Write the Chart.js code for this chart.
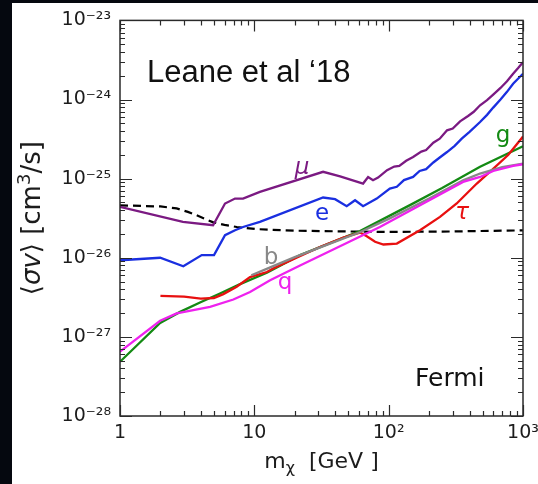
<!DOCTYPE html>
<html>
<head>
<meta charset="utf-8">
<script src="https://cdn.jsdelivr.net/npm/chart.js@4/dist/chart.umd.min.js"></script>
<style>
  html, body { margin: 0; padding: 0; background: #05080f; overflow: hidden; }
  canvas { display: block; }
</style>
</head>
<body>
<canvas id="chart" width="560" height="484"></canvas>
<script>
// Dark-matter annihilation limits: <sigma v> [cm^3/s] versus m_chi [GeV]

// Fermi reference line (dashed)
const fermiMass  = [1, 2, 2.64, 3.2, 3.72, 4.3, 4.95, 6, 7.4, 10.4, 20, 50, 100, 300, 1000];
const fermiSigma = [4.6e-26, 4.45e-26, 4.2e-26, 3.8e-26, 3.45e-26, 3.1e-26, 2.8e-26, 2.6e-26, 2.45e-26, 2.3e-26, 2.2e-26, 2.15e-26, 2.12e-26, 2.15e-26, 2.22e-26];

// mu channel
const muMass  = [1, 2.94, 4.93, 6.05, 7.18, 8.24, 11, 32.5, 43.5, 64.5, 70.3, 76.5, 83.4, 97.3, 110, 120, 135, 152, 175, 190, 215, 240, 272, 300, 340, 390, 430, 479, 540, 600, 680, 760, 844, 920, 1000];
const muSigma = [4.4e-26, 2.84e-26, 2.58e-26, 4.85e-26, 5.6e-26, 5.6e-26, 6.8e-26, 1.22e-25, 1.07e-25, 8.67e-26, 1.05e-25, 9.55e-26, 1.03e-25, 1.28e-25, 1.42e-25, 1.45e-25, 1.68e-25, 1.88e-25, 2.2e-25, 2.3e-25, 2.85e-25, 3.2e-25, 4.08e-25, 4.3e-25, 5.3e-25, 6.2e-25, 7.0e-25, 8.45e-25, 9.8e-25, 1.15e-24, 1.4e-24, 1.7e-24, 2.12e-24, 2.5e-24, 2.97e-24];

// e channel
const eMass  = [1, 1.99, 2.96, 4.06, 5.01, 6.05, 7.18, 8.24, 11, 32.5, 39.9, 48.7, 56.2, 64.5, 81.5, 102, 115, 130, 152, 170, 190, 215, 240, 272, 310, 350, 400, 479, 540, 600, 680, 760, 844, 1000];
const eSigma = [9.3e-27, 1.0e-26, 7.8e-27, 1.08e-26, 1.08e-26, 1.93e-26, 2.23e-26, 2.45e-26, 2.84e-26, 5.77e-26, 5.5e-26, 4.49e-26, 5.33e-26, 4.49e-26, 5.6e-26, 7.5e-26, 7.9e-26, 9.6e-26, 1.05e-25, 1.25e-25, 1.32e-25, 1.6e-25, 1.85e-25, 2.17e-25, 2.6e-25, 3.2e-25, 3.9e-25, 5.2e-25, 6.4e-25, 7.9e-25, 1.0e-24, 1.25e-24, 1.58e-24, 2.12e-24];

// tau channel
const tauMass  = [2, 3, 4, 5, 5.88, 7.39, 9.29, 12.4, 13.8, 30.8, 46, 61.2, 68.7, 79.2, 91.4, 115, 171, 241, 321, 453, 602, 778, 1000];
const tauSigma = [3.3e-27, 3.22e-27, 3.05e-27, 3.1e-27, 3.47e-27, 4.3e-27, 5.7e-27, 6.6e-27, 7.3e-27, 1.37e-26, 1.8e-26, 2.08e-26, 1.87e-26, 1.59e-26, 1.47e-26, 1.51e-26, 2.23e-26, 3.28e-26, 4.85e-26, 8.67e-26, 1.34e-25, 2.0e-25, 3.4e-25];

// b channel
const bMass  = [9.5, 13, 20, 40, 61, 100, 200, 358, 479, 700, 1000];
const bSigma = [6.0e-27, 7.5e-27, 1.02e-26, 1.6e-26, 2.1e-26, 3.1e-26, 5.6e-26, 9.5e-26, 1.16e-25, 1.4e-25, 1.55e-25];

// q channel
const qMass  = [1, 1.99, 2.64, 4.68, 6.98, 9.29, 13.1, 21.9, 86, 358, 479, 600, 844, 1000];
const qSigma = [6.5e-28, 1.6e-27, 1.98e-27, 2.4e-27, 2.97e-27, 3.7e-27, 5.2e-27, 8.0e-27, 2.45e-26, 9.1e-26, 1.05e-25, 1.25e-25, 1.45e-25, 1.52e-25];

// g channel
const gMass  = [1, 1.99, 2.8, 3.94, 5.55, 7.83, 12.4, 21.9, 61.2, 150, 250, 479, 1000];
const gSigma = [4.85e-28, 1.5e-27, 2.07e-27, 2.72e-27, 3.54e-27, 4.65e-27, 6.45e-27, 1.08e-26, 2.17e-26, 4.8e-26, 7.6e-26, 1.41e-25, 2.57e-25];

// Axis ticks
const xTickValues = [1, 10, 100, 1000];
const xTickLabels = ['1', '10', '10²', '10³'];
const yTickValues = [1e-28, 1e-27, 1e-26, 1e-25, 1e-24, 1e-23];
const yTickLabels = ['10⁻²⁸', '10⁻²⁷', '10⁻²⁶', '10⁻²⁵', '10⁻²⁴', '10⁻²³'];

// Curve labels: text, colour, position in data coordinates
const curveLabels = [
  { text: 'μ', color: '#7b1a82', x: 22.7, y: 1.35e-25, italic: true },
  { text: 'e', color: '#1a2fe0', x: 31.9, y: 3.56e-26, italic: false },
  { text: 'b', color: '#888888', x: 13.3, y: 9.9e-27, italic: false },
  { text: 'q', color: '#ee22ee', x: 16.9, y: 4.8e-27, italic: false },
  { text: 'τ', color: '#e81010', x: 352, y: 3.66e-26, italic: true },
  { text: 'g', color: '#138a13', x: 711, y: 3.5e-25, italic: false }
];

const toPoints = (xs, ys) => xs.map((x, i) => ({ x: x, y: ys[i] }));

function series(label, xs, ys, color, dash) {
  return {
    label: label,
    data: toPoints(xs, ys),
    borderColor: color,
    backgroundColor: color,
    borderWidth: dash ? 2.2 : 2.3,
    borderDash: dash || [],
    pointRadius: 0,
    tension: 0,
    fill: false
  };
}

const AXIS_COLOR = '#2a2a2a';
const TEXT_COLOR = '#1c1c1c';

// draws a sequence of text runs (with sub/superscripts) centred on x
function drawRuns(ctx, runs, cx, baseline) {
  let total = 0;
  runs.forEach(r => {
    ctx.font = (r.italic ? 'italic ' : '') + r.size + 'px "DejaVu Sans"';
    r.w = ctx.measureText(r.text).width;
    total += r.w;
  });
  let x = cx - total / 2;
  ctx.textAlign = 'left';
  ctx.textBaseline = 'alphabetic';
  runs.forEach(r => {
    ctx.font = (r.italic ? 'italic ' : '') + r.size + 'px "DejaVu Sans"';
    ctx.fillText(r.text, x, baseline + (r.dy || 0));
    x += r.w;
  });
}

const decorPlugin = {
  id: 'decor',
  beforeDraw(chart) {
    const ctx = chart.ctx;
    ctx.save();
    ctx.fillStyle = '#05080f';
    ctx.fillRect(0, 0, chart.width, chart.height);
    ctx.fillStyle = '#ffffff';
    ctx.fillRect(12, 3, chart.width - 12, chart.height - 3);
    ctx.restore();
  },
  afterDraw(chart) {
    const ctx = chart.ctx;
    const a = chart.chartArea;
    const xs = chart.scales.x, ys = chart.scales.y;
    ctx.save();

    // frame
    ctx.strokeStyle = AXIS_COLOR;
    ctx.lineWidth = 1.5;
    ctx.strokeRect(a.left, a.top, a.right - a.left, a.bottom - a.top);

    // inward tick marks on all four sides
    ctx.lineWidth = 1.2;
    ctx.beginPath();
    for (let d = 0; d <= 3; d++) {
      for (let m = 1; m <= 9; m++) {
        const v = m * Math.pow(10, d);
        if (v > 1000) break;
        const px = Math.round(xs.getPixelForValue(v)) + 0.5;
        const len = m === 1 ? 11 : 5;
        ctx.moveTo(px, a.bottom); ctx.lineTo(px, a.bottom - len);
        ctx.moveTo(px, a.top); ctx.lineTo(px, a.top + len);
      }
    }
    for (let d = -28; d <= -23; d++) {
      for (let m = 1; m <= 9; m++) {
        const v = m * Math.pow(10, d);
        if (d === -23 && m > 1) break;
        const py = Math.round(ys.getPixelForValue(v)) + 0.5;
        const len = m === 1 ? 12 : 5;
        ctx.moveTo(a.left, py); ctx.lineTo(a.left + len, py);
        ctx.moveTo(a.right, py); ctx.lineTo(a.right - len, py);
      }
    }
    ctx.stroke();

    // curve labels
    ctx.textAlign = 'center';
    ctx.textBaseline = 'middle';
    curveLabels.forEach(l => {
      ctx.font = (l.italic ? 'italic ' : '') + '23px "DejaVu Sans"';
      ctx.fillStyle = l.color;
      ctx.fillText(l.text, xs.getPixelForValue(l.x), ys.getPixelForValue(l.y));
    });

    // annotations
    ctx.fillStyle = '#111111';
    ctx.textAlign = 'left';
    ctx.textBaseline = 'alphabetic';
    ctx.font = '31px "Liberation Sans"';
    ctx.fillText('Leane et al ‘18', a.left + 27, a.top + 62);
    ctx.font = '25px "DejaVu Sans"';
    ctx.fillText('Fermi', a.left + 295, a.bottom - 30);

    // axis titles
    ctx.fillStyle = TEXT_COLOR;
    drawRuns(ctx, [
      { text: 'm', size: 22 },
      { text: 'χ', size: 16, dy: 5 },
      { text: '  [GeV ]', size: 22 }
    ], (a.left + a.right) / 2, 468);

    ctx.translate(40, (a.top + a.bottom) / 2 + 0);
    ctx.rotate(-Math.PI / 2);
    drawRuns(ctx, [
      { text: '⟨', size: 26 },
      { text: 'σv', size: 26, italic: true },
      { text: '⟩ [cm', size: 26 },
      { text: '3', size: 18, dy: -10 },
      { text: '/s]', size: 26 }
    ], 0, 0);

    ctx.restore();
  }
};

const tickFont = { family: 'DejaVu Sans', size: 19 };

new Chart(document.getElementById('chart').getContext('2d'), {
  type: 'line',
  data: {
    datasets: [
      series('μ', muMass, muSigma, '#7b1a82'),
      series('e', eMass, eSigma, '#1a2fe0'),
      series('q', qMass, qSigma, '#ee22ee'),
      series('b', bMass, bSigma, '#888888'),
      series('τ', tauMass, tauSigma, '#e81010'),
      series('g', gMass, gSigma, '#138a13'),
      series('Fermi', fermiMass, fermiSigma, '#000000', [8, 5])
    ]
  },
  options: {
    responsive: false,
    animation: false,
    devicePixelRatio: 1,
    layout: { padding: { left: 12, top: 20, right: 37, bottom: 0 } },
    plugins: { legend: { display: false }, tooltip: { enabled: false } },
    scales: {
      x: {
        type: 'logarithmic',
        min: 1, max: 1000,
        grid: { display: false, drawTicks: false },
        border: { display: false },
        afterBuildTicks: s => { s.ticks = xTickValues.map(v => ({ value: v })); },
        afterFit: s => { s.height = 68; },
        ticks: {
          autoSkip: false, maxRotation: 0, minRotation: 0, padding: 6,
          color: TEXT_COLOR, font: tickFont,
          callback: (v, i) => xTickLabels[i]
        }
      },
      y: {
        type: 'logarithmic',
        min: 1e-28, max: 1e-23,
        grid: { display: false, drawTicks: false },
        border: { display: false },
        afterBuildTicks: s => { s.ticks = yTickValues.map(v => ({ value: v })); },
        afterFit: s => { s.width = 108; },
        ticks: {
          autoSkip: false, padding: 9,
          color: TEXT_COLOR, font: tickFont,
          callback: (v, i) => yTickLabels[i]
        }
      }
    }
  },
  plugins: [decorPlugin]
});
</script>
</body>
</html>
